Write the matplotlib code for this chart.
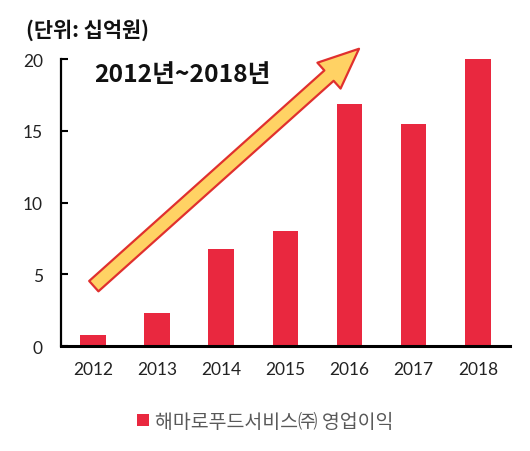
import matplotlib.pyplot as plt
from matplotlib.patches import FancyArrowPatch, ArrowStyle

plt.rcParams['font.family'] = ['Lato', 'Noto Sans CJK KR', 'DejaVu Sans']

years = ['2012', '2013', '2014', '2015', '2016', '2017', '2018']
profit = [0.75, 2.3, 6.8, 8.0, 16.9, 15.5, 20.0]
yticks = [0, 5, 10, 15, 20]

bar_color = '#E9283F'

fig = plt.figure(figsize=(5.3, 4.52), dpi=100)
ax = fig.add_axes([0.115, 0.232, 0.847, 0.635])

x = range(len(years))
ax.bar(x, profit, width=0.4, color=bar_color, label='해마로푸드서비스㈜ 영업이익', zorder=2)

ax.set_xlim(-0.5, len(years) - 0.5)
ax.set_ylim(0, 20)
ax.set_yticks(yticks)
ax.set_xticks(list(x))
ax.set_xticklabels(years)
ax.tick_params(axis='x', length=0, pad=11, labelsize=12.5)
ax.tick_params(axis='y', direction='in', length=5, width=1.5, pad=13, labelsize=12.5)
for lab in ax.get_yticklabels() + ax.get_xticklabels():
    lab.set_color('#222222')

ax.spines['top'].set_visible(False)
ax.spines['right'].set_visible(False)
ax.spines['left'].set_linewidth(1.6)
ax.spines['bottom'].set_linewidth(2.2)

# big yellow trend arrow
arrow = FancyArrowPatch((-0.02, 4.05), (4.18, 20.85),
                        arrowstyle=ArrowStyle('Simple', head_length=29, head_width=25, tail_width=10),
                        mutation_scale=1, facecolor='#FFD264', edgecolor='#E0302E',
                        linewidth=1.6, clip_on=False, zorder=3)
ax.add_patch(arrow)

fig.text(0.05, 0.934, '(단위: 십억원)', fontsize=15, fontweight='bold',
         family=['Noto Sans CJK KR'], ha='left', va='center', color='#111111')
fig.text(0.177, 0.834, '2012년~2018년', fontsize=17.8, fontweight='bold',
         family=['Noto Sans CJK KR'], ha='left', va='center', color='#111111')

leg = fig.legend(loc='center', bbox_to_anchor=(0.5, 0.066), frameon=False,
                 handlelength=0.6, handleheight=0.6, handletextpad=0.3,
                 prop={'family': ['Noto Sans CJK KR'], 'size': 14})
for t in leg.get_texts():
    t.set_color('#595959')

fig.savefig('out.png', dpi=100)
